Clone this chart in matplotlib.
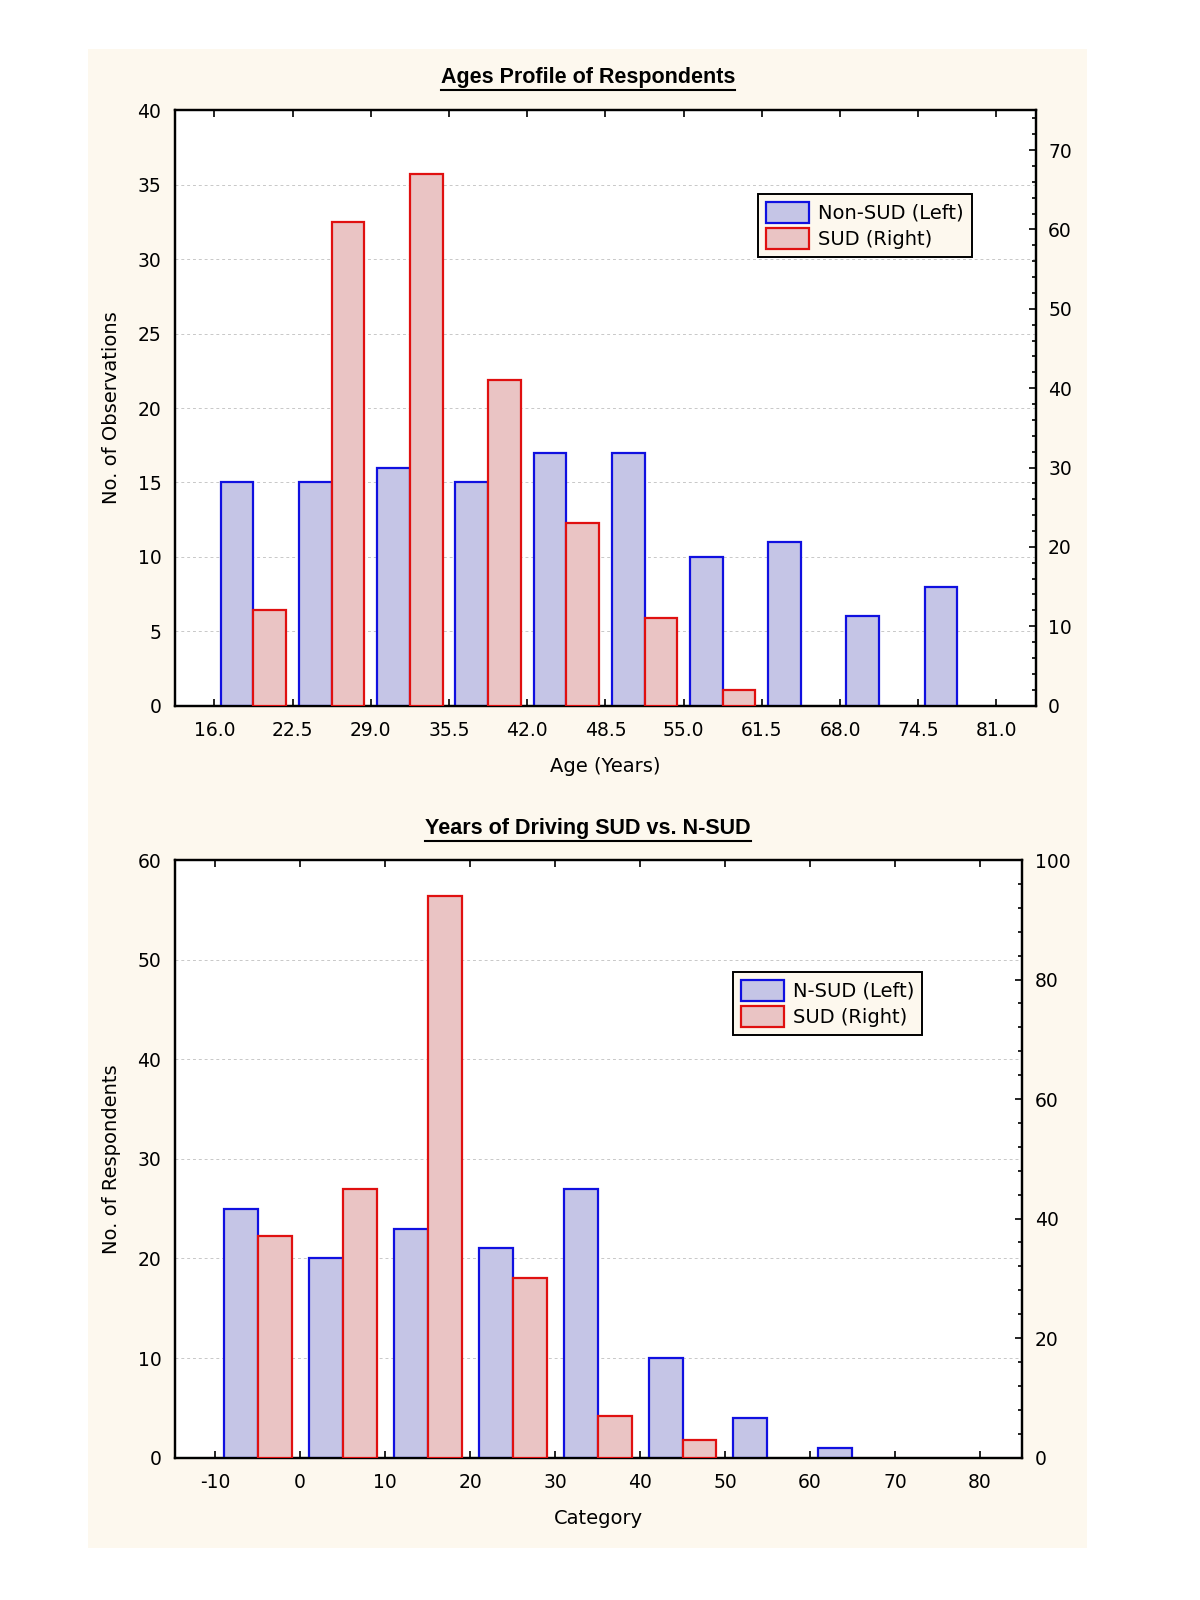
import numpy as np
import matplotlib.pyplot as plt
from matplotlib.patches import Rectangle
from matplotlib.lines import Line2D
from matplotlib.ticker import MultipleLocator

# Ages profile (bin centres of 6.5-year bins)
age_centers = [19.25, 25.75, 32.25, 38.75, 45.25, 51.75, 58.25, 64.75, 71.25, 77.75]
age_nonsud = [15, 15, 16, 15, 17, 17, 10, 11, 6, 8]
age_sud = [12, 61, 67, 41, 23, 11, 2, 0, 0, 0]
age_ticks = [16.0, 22.5, 29.0, 35.5, 42.0, 48.5, 55.0, 61.5, 68.0, 74.5, 81.0]

# Years of driving
drive_centers = [-5, 5, 15, 25, 35, 45, 55, 65, 75]
drive_nsud = [25, 20, 23, 21, 27, 10, 4, 1, 0]
drive_sud = [37, 45, 94, 30, 7, 3, 0, 0, 0]
drive_ticks = [-10, 0, 10, 20, 30, 40, 50, 60, 70, 80]

cream = '#fdf8ee'
blue_fc, blue_ec = '#c5c5e6', '#1010e0'
red_fc, red_ec = '#eac4c4', '#e01010'
plt.rcParams['font.family'] = ['DejaVu Sans']

fig = plt.figure(figsize=(12, 16), dpi=100)
fig.patch.set_facecolor('white')
fig.add_artist(Rectangle((88 / 1200, 1 - 1548 / 1600), 999 / 1200, 1499 / 1600,
                         transform=fig.transFigure, facecolor=cream,
                         edgecolor='none', zorder=-10))


def draw_panel(rect, centers, left_vals, right_vals, width, xlim, xticks, xfmt,
               ylim_l, ystep_l, ylim_r, ystep_r, minor_r, ylabel, xlabel,
               labels, title, title_y, legend_rect):
    ax = fig.add_axes(rect)
    ax.set_facecolor('white')
    ax2 = ax.twinx()
    c = np.array(centers)
    lv = np.array(left_vals)
    rv = np.array(right_vals)
    m = lv > 0
    ax.bar(c[m] - width / 2, lv[m], width=width, facecolor=blue_fc,
           edgecolor=blue_ec, linewidth=1.6, zorder=3)
    m = rv > 0
    ax2.bar(c[m] + width / 2, rv[m], width=width, facecolor=red_fc,
            edgecolor=red_ec, linewidth=1.6, zorder=3)
    ax.set_xlim(*xlim)
    ax.set_ylim(*ylim_l)
    ax2.set_ylim(*ylim_r)
    ax.set_xticks(xticks)
    ax.set_xticklabels([xfmt.format(t) for t in xticks])
    ax.yaxis.set_major_locator(MultipleLocator(ystep_l))
    ax2.yaxis.set_major_locator(MultipleLocator(ystep_r))
    ax2.yaxis.set_minor_locator(MultipleLocator(minor_r))
    ax.grid(axis='y', color='#c8c8c8', linestyle=(0, (3, 3)), linewidth=0.7, zorder=0)
    ax.tick_params(axis='y', length=0, pad=10, labelsize=13.5)
    ax.tick_params(axis='x', direction='in', length=5, width=1.2, top=True,
                   pad=11, labelsize=13.5)
    ax2.tick_params(axis='y', which='major', direction='in', length=5, width=1.2,
                    pad=9, labelsize=13.5)
    ax2.tick_params(axis='y', which='minor', direction='in', length=3, width=1.2)
    for a in (ax, ax2):
        for s in a.spines.values():
            s.set_linewidth(1.6)
            s.set_color('black')
    ax.set_ylabel(ylabel, fontsize=14, labelpad=12)
    ax.set_xlabel(xlabel, fontsize=14, labelpad=12)
    handles = [Rectangle((0, 0), 1, 1, facecolor=blue_fc, edgecolor=blue_ec, lw=1.6),
               Rectangle((0, 0), 1, 1, facecolor=red_fc, edgecolor=red_ec, lw=1.6)]
    lx0, ly0, lx1, ly1 = legend_rect
    leg = ax.legend(handles, labels, loc='upper left',
                    bbox_to_anchor=(lx0 / 1200, 1 - ly0 / 1600),
                    bbox_transform=fig.transFigure, fontsize=14, frameon=True,
                    fancybox=False, borderpad=0.4, handlelength=2.2,
                    handleheight=1.3, handletextpad=0.5, labelspacing=0.25,
                    borderaxespad=0)
    leg.get_frame().set_facecolor(cream)
    leg.get_frame().set_edgecolor('black')
    leg.get_frame().set_linewidth(1.4)
    leg.get_frame().set_alpha(1)
    leg.set_zorder(10)
    t = fig.text(588 / 1200, 1 - title_y / 1600, title, ha='center', va='center',
                 fontsize=15.5, fontweight='bold', family='Liberation Sans')
    return ax, ax2, t


ax1, ax1r, t1 = draw_panel([0.146, 0.559, 0.717, 0.372], age_centers, age_nonsud,
                           age_sud, 2.72, (12.75, 84.25), age_ticks, '{:.1f}',
                           (0, 40), 5, (0, 75), 10, 2,
                           'No. of Observations', 'Age (Years)',
                           ['Non-SUD (Left)', 'SUD (Right)'],
                           'Ages Profile of Respondents', 78, (758, 194, 971, 258))

ax2, ax2r, t2 = draw_panel([0.146, 0.089, 0.706, 0.3735], drive_centers, drive_nsud,
                           drive_sud, 4.0, (-14.7, 85.0), drive_ticks, '{:d}',
                           (0, 60), 10, (0, 100), 20, 4,
                           'No. of Respondents', 'Category',
                           ['N-SUD (Left)', 'SUD (Right)'],
                           'Years of Driving SUD vs. N-SUD', 829, (733, 972, 923, 1036))

# underline the titles
fig.canvas.draw()
r = fig.canvas.get_renderer()
for t in (t1, t2):
    bb = t.get_window_extent(r).transformed(fig.transFigure.inverted())
    y = bb.y0 - 0.001
    fig.add_artist(Line2D([bb.x0, bb.x1], [y, y], transform=fig.transFigure,
                          color='black', linewidth=1.5))

fig.savefig('out.png', dpi=100)
